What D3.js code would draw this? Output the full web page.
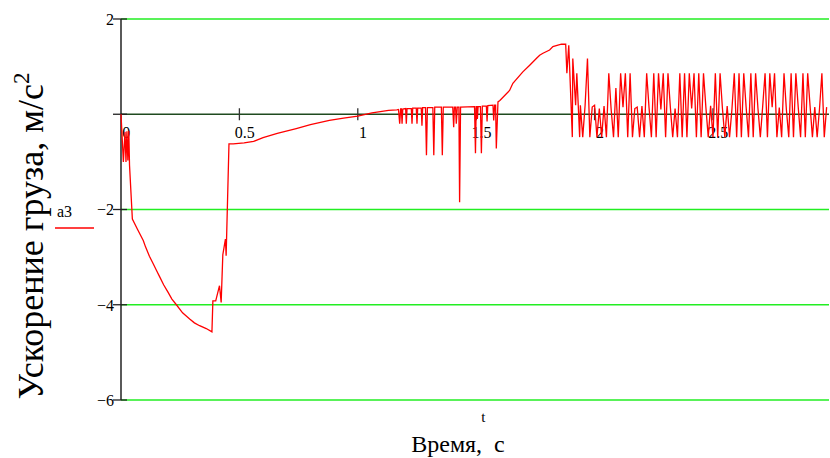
<!DOCTYPE html>
<html><head><meta charset="utf-8">
<script src="https://cdn.jsdelivr.net/npm/d3@7"></script>
<style>
html,body{margin:0;padding:0;background:#fff;}
svg text{font-family:"Liberation Serif","Times New Roman",serif;fill:#000;}
</style></head>
<body><svg id="c" width="830" height="458" font-family="Liberation Serif, serif"></svg>
<script>
// ---- data: acceleration a3 (m/s^2) versus time t (s) ----
const startDrop = [[0,0],[0.01,-1.0],[0.017,-0.37],[0.021,-1.0],[0.025,-0.36],[0.029,-0.97],[0.033,-0.35],[0.036,-1.07],[0.048,-2.2],[0.07,-2.42],[0.094,-2.65],[0.104,-2.79],[0.12,-2.98],[0.136,-3.14],[0.15,-3.28],[0.164,-3.42],[0.18,-3.58],[0.199,-3.74],[0.215,-3.88],[0.234,-4.0],[0.26,-4.17],[0.29,-4.3],[0.31,-4.38],[0.332,-4.44],[0.36,-4.5],[0.384,-4.57]];
const recovery = [[0.388,-3.92],[0.40,-3.92],[0.416,-3.6],[0.423,-3.95],[0.43,-2.95],[0.441,-2.62],[0.444,-2.97],[0.456,-0.62],[0.474,-0.62],[0.52,-0.6],[0.56,-0.57],[0.60,-0.49],[0.66,-0.4],[0.74,-0.3],[0.80,-0.22],[0.88,-0.13],[0.94,-0.08],[1.0,-0.04],[1.06,0.03],[1.13,0.08],[1.165,0.09]];
const spiky = [[1.172,0.1],[1.177,-0.2],[1.181,0.11],[1.184,0.11],[1.187,-0.2],[1.19,0.11],
 [1.202,0.12],[1.205,-0.2],[1.208,0.12],[1.226,0.12],[1.229,-0.2],[1.232,0.13],
 [1.247,0.13],[1.25,-0.2],[1.253,0.13],[1.268,0.13],[1.271,-0.24],[1.274,0.14],
 [1.286,0.14],[1.29,-0.86],[1.294,0.14],[1.317,0.14],[1.321,-0.86],[1.325,0.15],
 [1.353,0.15],[1.357,-0.86],[1.361,0.15],[1.401,0.15],[1.405,-0.27],[1.408,0.15],[1.413,0.15],[1.416,-0.2],[1.42,0.15],
 [1.427,0.15],[1.43,-1.85],[1.434,0.15],[1.493,0.16],[1.497,-0.82],[1.5,0.16],[1.503,0.16],[1.505,-0.1],[1.508,0.16],
 [1.518,0.16],[1.522,-0.82],[1.526,0.17],[1.543,0.17],[1.546,-0.15],[1.549,0.18],
 [1.571,0.19],[1.574,-0.13],[1.578,0.19],[1.582,0.19],[1.585,-0.72],[1.592,0.26]];
const rise = [[1.6,0.29],[1.641,0.5],[1.655,0.65],[1.697,0.89],[1.726,1.03],[1.754,1.17],[1.768,1.24],[1.782,1.28],[1.81,1.35],[1.824,1.42],[1.838,1.44],[1.86,1.47],[1.878,1.47],[1.883,0.86],[1.891,1.45],[1.906,-0.48],[1.908,1.17],[1.92,0.19],[1.925,0.86],[1.937,-0.48]];
// oscillating tail, sampled every 0.01 s from t = 1.94 s
const noiseStart = 1.94, noiseStep = 0.01;
const noiseValues = [0.19,-0.48,0.19,1.17,-0.48,0.15,0.19,-0.48,0.12,-0.48,
 0.17,-0.48,0.86,0.1,-0.48,0.55,-0.48,0.86,0.15,0.86,
 -0.48,0.86,-0.48,0.12,0.15,-0.48,0.17,-0.48,0.86,0.14,
 -0.48,0.86,-0.48,0.86,0.1,0.86,-0.48,0.86,0.15,-0.48,
 0.12,-0.48,0.86,-0.48,0.86,-0.48,0.86,0.12,0.86,-0.48,
 0.86,-0.48,0.86,0.15,-0.48,0.18,-0.48,0.86,-0.48,0.86,
 0.12,-0.48,0.17,-0.48,0.1,0.86,-0.48,0.86,-0.48,0.86,
 0.15,-0.48,0.86,-0.48,0.86,0.12,-0.48,0.17,0.86,-0.48,
 0.86,0.15,0.86,-0.48,0.14,-0.48,0.86,0.1,-0.48,0.86,
 -0.48,0.86,0.15,-0.48,0.86,-0.48,0.86,0.18,-0.48,0.15,
 -0.48,0.12,0.86,-0.48,0.15];
const yTicks = [2,0,-2,-4,-6];
const yTickLabels = ["2","","\u22122","\u22124","\u22126"];
const gridValues = [2,-2,-4,-6];
const xTicks = [0,0.5,1,1.5,2,2.5];
const xTickLabels = ["0","0.5","1","1.5","2","2.5"];
const seriesName = "a3";
const xTitle = "Время,  с";
const xVarName = "t";

// ---- build series ----
const noise = noiseValues.map((v,i)=>[noiseStart+i*noiseStep, v]);
const series = [].concat(startDrop, recovery, spiky, rise, noise);

// ---- chart ----
const FONT = "Liberation Serif, Times New Roman, serif";
const svg = d3.select("#c");
const x = d3.scaleLinear().domain([0,2.99]).range([121,829]);
const y = d3.scaleLinear().domain([-6,2]).range([400,19]);

// grid lines
svg.append("g").selectAll("line").data(gridValues).join("line")
  .attr("x1",x(0)).attr("x2",x(2.99))
  .attr("y1",d=>y(d)).attr("y2",d=>y(d))
  .attr("stroke","#22ee22").attr("stroke-width",1.3);

// zero line
svg.append("line").attr("x1",x(0)).attr("x2",x(2.99))
  .attr("y1",y(0)).attr("y2",y(0))
  .attr("stroke","#1f4a1f").attr("stroke-width",1.6);

// y axis
const yAxis = d3.axisLeft(y).tickValues(yTicks).tickSize(0).tickFormat((d,i)=>yTickLabels[i]);
const gy = svg.append("g").attr("transform",`translate(${x(0)},0)`).call(yAxis)
  .attr("font-family",FONT);
gy.select(".domain").remove();
gy.selectAll("text").attr("font-size",16).attr("x",-7).attr("dy","0.33em").attr("fill","#000");
svg.append("line").attr("x1",x(0)).attr("x2",x(0)).attr("y1",y(2)).attr("y2",y(-6))
  .attr("stroke","#000").attr("stroke-width",1.3);
svg.append("g").selectAll("line").data(yTicks).join("line")
  .attr("x1",x(0)-8).attr("x2",x(0)+6).attr("y1",d=>y(d)).attr("y2",d=>y(d))
  .attr("stroke","#222").attr("stroke-width",1.3);

// x axis ticks on zero line
const xAxis = d3.axisBottom(x).tickValues(xTicks).tickSize(0).tickFormat((d,i)=>xTickLabels[i]);
const gx = svg.append("g").attr("transform",`translate(0,${y(0)})`).call(xAxis)
  .attr("font-family",FONT);
gx.select(".domain").remove();
gx.selectAll("text").attr("font-size",16).attr("dx","0.3em").attr("y",12).attr("fill","#000");
svg.append("g").selectAll("line").data(xTicks.slice(1)).join("line")
  .attr("x1",d=>x(d)).attr("x2",d=>x(d)).attr("y1",y(0)-6).attr("y2",y(0)+6)
  .attr("stroke","#333").attr("stroke-width",1.3);

// data trace
svg.append("path").datum(series)
  .attr("d", d3.line().x(d=>x(d[0])).y(d=>y(d[1])))
  .attr("fill","none").attr("stroke","#ff0000").attr("stroke-width",1.3)
  .attr("stroke-linejoin","miter");

// legend
svg.append("text").attr("x",57).attr("y",217).attr("font-size",16).attr("fill","#000").text(seriesName);
svg.append("line").attr("x1",55).attr("x2",94).attr("y1",228).attr("y2",228)
  .attr("stroke","#ff0000").attr("stroke-width",1.3);

// axis titles
svg.append("text").attr("x",x(1.53)).attr("y",422).attr("font-size",15).attr("fill","#000")
  .attr("text-anchor","middle").text(xVarName);
svg.append("text").attr("x",458).attr("y",452).attr("font-size",24).attr("fill","#000")
  .attr("text-anchor","middle").style("white-space","pre").text(xTitle);
const yt = svg.append("text").attr("transform","translate(43,236) rotate(-90)")
  .attr("font-size",36).attr("fill","#000").attr("text-anchor","middle");
yt.append("tspan").text("Ускорение груза, м/с");
yt.append("tspan").attr("dy",-14).attr("font-size",23).text("2");
</script></body></html>
